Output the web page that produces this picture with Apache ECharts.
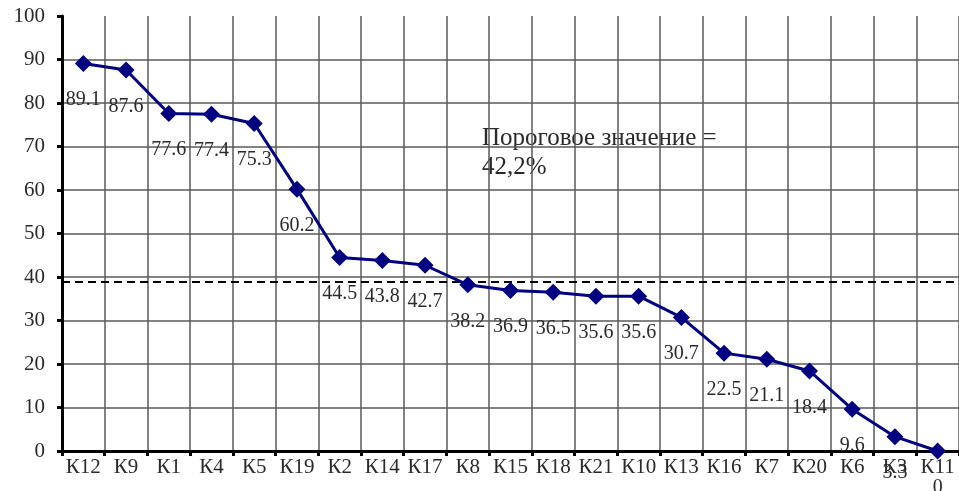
<!DOCTYPE html>
<html><head><meta charset="utf-8">
<script src="https://cdn.jsdelivr.net/npm/echarts@6/dist/echarts.min.js"></script>
<style>html,body{margin:0;padding:0;background:#fff}#c{width:959px;height:491px}</style>
</head><body><div id="c"></div>
<script>
const categories = ['К12','К9','К1','К4','К5','К19','К2','К14','К17','К8','К15','К18','К21','К10','К13','К16','К7','К20','К6','К3','К11'];
const values = [89.1,87.6,77.6,77.4,75.3,60.2,44.5,43.8,42.7,38.2,36.9,36.5,35.6,35.6,30.7,22.5,21.1,18.4,9.6,3.3,0];
const thresholdLine = 38.8;
const annotation = ['Пороговое значение =', '42,2%'];
const font = '"Liberation Serif", "Times New Roman", serif';
const chart = echarts.init(document.getElementById('c'));
const gridColors = [];
for (let i = 0; i < 11; i++) gridColors.push(i === 10 ? 'rgba(0,0,0,0)' : '#5a5a5a');
chart.setOption({
  animation: false,
  grid: {left: 62, top: 16, width: 903, height: 435},
  xAxis: {
    type: 'category', data: categories, boundaryGap: true,
    axisLine: {lineStyle: {color: '#000', width: 3}},
    axisTick: {show: true, length: 5, lineStyle: {color: '#000', width: 3}},
    axisLabel: {color: '#2a2a2a', fontFamily: font, fontSize: 21, margin: 6, interval: 0},
    splitLine: {show: true, interval: 0, lineStyle: {color: '#5a5a5a', width: 1.5}}
  },
  yAxis: {
    type: 'value', min: 0, max: 100, interval: 10,
    axisLine: {show: true, lineStyle: {color: '#000', width: 3}},
    axisTick: {show: true, length: 5, lineStyle: {color: '#000', width: 3}},
    axisLabel: {color: '#2a2a2a', fontFamily: font, fontSize: 21, margin: 17},
    splitLine: {show: true, lineStyle: {color: gridColors, width: 1.5}}
  },
  graphic: [{
    type: 'text', left: 482, top: 124,
    style: {text: annotation.join('\n'), font: '25px ' + font, fill: '#2a2a2a', lineHeight: 29}
  }],
  series: [{
    type: 'line', data: values,
    symbol: 'diamond', symbolSize: 17,
    lineStyle: {color: '#000080', width: 3},
    itemStyle: {color: '#000080'},
    label: {show: true, position: 'bottom', distance: 18, color: '#2a2a2a', fontFamily: font, fontSize: 20,
      formatter: p => String(p.value)},
    markLine: {
      silent: true, symbol: ['none','none'], label: {show: false},
      lineStyle: {color: '#000', type: [8, 5], width: 2},
      data: [{yAxis: thresholdLine}]
    },
    z: 5
  }]
});
</script></body></html>
